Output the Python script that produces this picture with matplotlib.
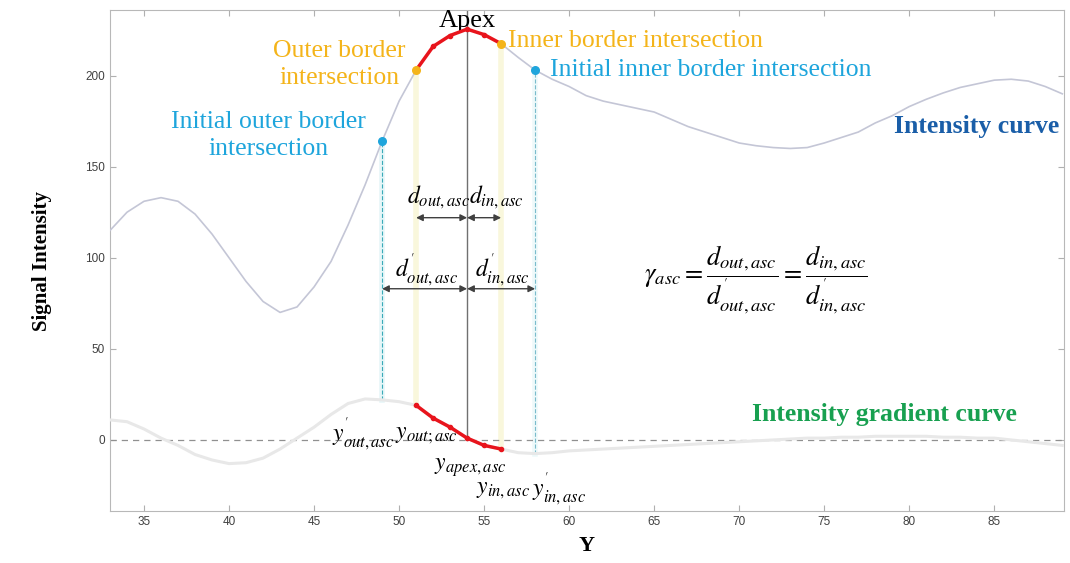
import numpy as np
import matplotlib.pyplot as plt

plt.rcParams['mathtext.fontset'] = 'stix'

# intensity curve (integer Y positions)
yPos = [33, 34, 35, 36, 37, 38, 39, 40, 41, 42, 43, 44, 45, 46, 47, 48, 49, 50,
        51, 52, 53, 54, 55, 56, 57, 58, 59, 60, 61, 62, 63, 64, 65, 66, 67, 68,
        69, 70, 71, 72, 73, 74, 75, 76, 77, 78, 79, 80, 81, 82, 83, 84, 85, 86,
        87, 88, 89]
intensity = [115, 125, 131, 133, 131, 124, 113, 100, 87, 76, 70, 73, 84, 98, 118, 140, 164, 186,
             203, 216, 222, 225.5, 222.5, 217.5, 210, 203, 198, 194, 189, 186, 184, 182, 180, 176, 172, 169,
             166, 163, 161.5, 160.5, 160, 160.5, 163, 166, 169, 174, 178, 183, 187, 190.5, 193.5, 195.5, 197.5, 198,
             197, 194, 190]
gradient = [11, 10, 6, 1, -3, -8, -11, -13, -12.5, -10, -5, 1, 7, 14, 20, 22.5, 22, 21,
            19, 12, 7, 1, -3, -5, -7, -7.5, -7, -6, -5.5, -5, -4.5, -4, -3.5, -3, -2.5, -2,
            -1.5, -1, -0.5, 0, 0.5, 1, 1, 1.5, 1.5, 2, 2, 2, 2, 1.5, 1.5, 1, 1, 0,
            -1, -2, -3]

outInit, outBorder, apex, inBorder, inInit = 49, 51, 54, 56, 58

iv = dict(zip(yPos, intensity))
gv = dict(zip(yPos, gradient))
seg = [y for y in yPos if outBorder <= y <= inBorder]

fig = plt.figure(figsize=(10.7, 5.63), dpi=100)
ax = fig.add_axes([0.1028, 0.0924, 0.8916, 0.8898])

cyan = '#1ea5dc'
orange = '#f4b41a'

# vertical guide lines
ax.plot([outInit, outInit], [gv[outInit], iv[outInit]], color='#e6f6f8', lw=4, zorder=1)
ax.plot([outInit, outInit], [gv[outInit], iv[outInit]], color='#3aaab8', lw=0.8, ls='--', zorder=2)
ax.plot([inInit, inInit], [gv[inInit], iv[inInit]], color='#eef9fa', lw=4, zorder=1)
ax.plot([inInit, inInit], [gv[inInit], iv[inInit]], color='#7abccc', lw=0.8, ls='--', zorder=2)
for b in (outBorder, inBorder):
    ax.plot([b, b], [gv[b], iv[b]], color='#f9f7dc', lw=4, zorder=1)
ax.plot([apex, apex], [0, 236], color='#707070', lw=1.0, zorder=2)

ax.axhline(0, color='#909090', lw=0.9, ls=(0, (5, 4)), zorder=2)

ax.plot(yPos, gradient, color='#e8e8e8', lw=2.2, zorder=3)
ax.plot(yPos, intensity, color='#c4c6d6', lw=1.2, zorder=3)

ax.plot(seg, [iv[y] for y in seg], color='#e8141c', lw=2.5, marker='o', ms=3, zorder=4)
ax.plot(seg, [gv[y] for y in seg], color='#e8141c', lw=2.5, marker='o', ms=3, zorder=4)

ax.scatter([outInit, inInit], [iv[outInit], iv[inInit]], color=cyan, s=30, zorder=5)
ax.scatter([outBorder, inBorder], [iv[outBorder], iv[inBorder]], color=orange, s=30, zorder=5)

# distance arrows
arr = dict(arrowstyle='<|-|>', color='#404040', lw=1.0, mutation_scale=10, shrinkA=0, shrinkB=0)
ax.annotate('', xy=(outBorder, 122), xytext=(apex, 122), arrowprops=arr)
ax.annotate('', xy=(apex, 122), xytext=(inBorder, 122), arrowprops=arr)
ax.annotate('', xy=(outInit, 83), xytext=(apex, 83), arrowprops=arr)
ax.annotate('', xy=(apex, 83), xytext=(inInit, 83), arrowprops=arr)

mfs = 17
ax.text(52.3, 133, r'$d_{out,asc}$', fontsize=mfs, ha='center', va='center')
ax.text(55.7, 133, r'$d_{in,asc}$', fontsize=mfs, ha='center', va='center')
ax.text(51.6, 93, r"$d^{'}_{out,asc}$", fontsize=mfs, ha='center', va='center')
ax.text(56.1, 93, r"$d^{'}_{in,asc}$", fontsize=mfs, ha='center', va='center')
ax.text(71.0, 88, r"$\gamma_{asc} = \dfrac{d_{out,asc}}{d^{'}_{out,asc}} = \dfrac{d_{in,asc}}{d^{'}_{in,asc}}$",
        fontsize=19, ha='center', va='center')

ax.text(47.9, 3, r"$y^{'}_{out,asc}$", fontsize=mfs, ha='center', va='center')
ax.text(51.6, 3, r'$y_{out;asc}$', fontsize=mfs, ha='center', va='center')
ax.text(54.2, -15, r'$y_{apex,asc}$', fontsize=mfs, ha='center', va='center')
ax.text(56.1, -27, r'$y_{in,asc}$', fontsize=mfs, ha='center', va='center')
ax.text(59.4, -27, r"$y^{'}_{in,asc}$", fontsize=mfs, ha='center', va='center')

serif = 'Liberation Serif'
tfs = 18.5
ax.text(54.0, 230, 'Apex', fontsize=19, family=serif, ha='center', va='center')
ax.text(42.3, 167, 'Initial outer border\nintersection', fontsize=tfs, family=serif,
        color=cyan, ha='center', va='center', linespacing=1.3)
ax.text(46.5, 206, 'Outer border\nintersection', fontsize=tfs, family=serif,
        color=orange, ha='center', va='center', linespacing=1.3)
ax.text(56.4, 219, 'Inner border intersection', fontsize=tfs, family=serif,
        color=orange, ha='left', va='center')
ax.text(58.9, 203, 'Initial inner border intersection', fontsize=tfs, family=serif,
        color=cyan, ha='left', va='center')
ax.text(88.8, 172, 'Intensity curve', fontsize=tfs, family=serif, fontweight='bold',
        color='#1a5ea8', ha='right', va='center')
ax.text(86.3, 14, 'Intensity gradient curve', fontsize=tfs, family=serif, fontweight='bold',
        color='#18a050', ha='right', va='center')

ax.set_xlim(33, 89.1)
ax.set_ylim(-39, 236)
ax.set_xticks(range(35, 90, 5))
ax.set_yticks(range(0, 201, 50))
ax.tick_params(direction='in', length=4, labelsize=8.5, colors='#b0b0b0', labelcolor='#404040',
               top=True, right=True)
for lab in ax.get_xticklabels() + ax.get_yticklabels():
    lab.set_family('Liberation Sans')
for s in ax.spines.values():
    s.set_color('#b8b8b8')

ax.set_ylabel('Signal Intensity', fontsize=15, family=serif, fontweight='bold', labelpad=24)
ax.set_xlabel('Y', fontsize=16, family=serif, fontweight='bold', labelpad=6)

fig.savefig('out.png', dpi=100)
